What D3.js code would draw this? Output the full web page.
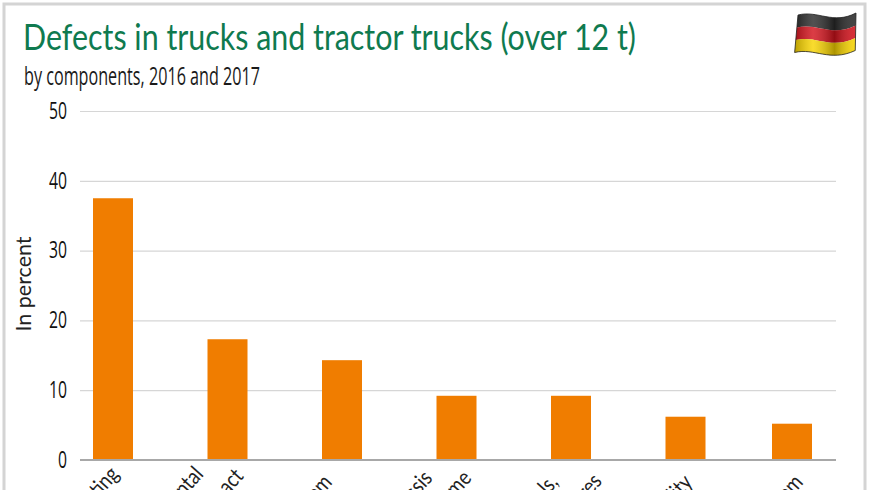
<!DOCTYPE html>
<html>
<head>
<meta charset="utf-8">
<script src="https://cdn.jsdelivr.net/npm/d3@7"></script>
<style>
  html, body { margin: 0; padding: 0; background: #fff; overflow: hidden; }
  text { font-family: "Lato", "Open Sans", sans-serif; }
</style>
</head>
<body>
<div id="content"></div>
<script>
var categories = ['Lighting', 'Environmental\nimpact', 'Brake system', 'Chassis\nand frame', 'Axles, wheels,\ntires', 'Visibility', 'Electrical system'];
var values = [37.5, 17.3, 14.3, 9.2, 9.2, 6.2, 5.2];
var yTicks = [0, 10, 20, 30, 40, 50];

var title = 'Defects in trucks and tractor trucks (over 12 t)';
var subtitle = 'by components, 2016 and 2017';
var yLabel = 'In percent';

var width = 870;
var height = 490;
var svg = d3.select('#content').append('svg').attr('width', width).attr('height', height).style('display', 'block');

// outer frame
svg.append('rect')
  .attr('x', 4).attr('y', 4).attr('width', 861).attr('height', 500)
  .style('fill', 'none').style('stroke', '#d4d4d4').style('stroke-width', 3);

svg.append('text').attr('x', 23).attr('y', 50)
  .attr('textLength', 613).attr('lengthAdjust', 'spacingAndGlyphs')
  .style('font-size', '36px').style('fill', '#0f7a4f').text(title);

svg.append('text').attr('x', 24).attr('y', 85)
  .attr('textLength', 236).attr('lengthAdjust', 'spacingAndGlyphs')
  .style('font-family', '"Open Sans", sans-serif').style('font-size', '25px').style('fill', '#1a1a1a').text(subtitle);

var y = d3.scaleLinear().domain([0, 50]).range([460, 111]);
// the picture's bars sit on an even step, apart from the last which is pulled in
var x = d3.scalePoint().domain(categories).range([113, 800]);
function barX(d, i) { return x(d) - (i === categories.length - 1 ? 8 : 0); }

var axisY = svg.append('g').attr('transform', 'translate(80,0)')
  .call(d3.axisLeft(y).tickValues(yTicks).tickSize(-756).tickPadding(13));
axisY.select('.domain').remove();
axisY.selectAll('.tick line').style('stroke', '#d6d6d6').style('stroke-width', 1.2);
axisY.selectAll('.tick text')
  .attr('textLength', function(d) { return String(d).length * 9; })
  .attr('lengthAdjust', 'spacingAndGlyphs')
  .style('font-family', '"Open Sans", sans-serif').style('font-size', '23px').style('fill', '#111');

svg.append('text')
  .attr('transform', 'translate(31,284) rotate(-90)')
  .attr('textLength', 95).attr('lengthAdjust', 'spacingAndGlyphs')
  .style('text-anchor', 'middle').style('font-size', '21px').style('fill', '#222')
  .text(yLabel);

svg.selectAll('.bar').data(values).enter().append('rect')
  .attr('class', 'bar')
  .attr('x', function(d, i) { return barX(categories[i], i) - 20; })
  .attr('y', function(d) { return y(d); })
  .attr('width', 40)
  .attr('height', function(d) { return y(0) - y(d); })
  .style('fill', '#f07d00');

// baseline on top of the bars
svg.append('line')
  .attr('x1', 80).attr('x2', 836).attr('y1', y(0)).attr('y2', y(0))
  .style('stroke', '#a8a8a8').style('stroke-width', 2.2);

// where each label line ends, relative to its bar (dx) and the baseline (dy)
var lineShift = [
  [[7, 15]],
  [[-23, 15], [17, 17]],
  [[-9, 23]],
  [[-23, 19], [16, 19]],
  [[-12, 23], [32, 22]],
  [[8, 23]],
  [[12, 23]]
];

categories.forEach(function(d, i) {
  d.split('\n').forEach(function(line, k) {
    var label = svg.append('text')
      .attr('class', 'cat')
      .attr('transform', 'translate(' + (barX(d, i) + lineShift[i][k][0]) + ',' + (y(0) + lineShift[i][k][1]) + ') rotate(-48)')
      .style('text-anchor', 'end').style('font-size', '22px').style('fill', '#222')
      .text(line);
    // the reference lettering is condensed
    label.attr('textLength', label.node().getComputedTextLength() * 0.85)
      .attr('lengthAdjust', 'spacingAndGlyphs');
  });
});

// flag, small wavy black-red-gold
var defs = svg.append('defs');
var shine = defs.append('linearGradient').attr('id', 'shine');
shine.append('stop').attr('offset', '0').attr('stop-color', '#000').attr('stop-opacity', 0.25);
shine.append('stop').attr('offset', '0.3').attr('stop-color', '#fff').attr('stop-opacity', 0.18);
shine.append('stop').attr('offset', '0.65').attr('stop-color', '#000').attr('stop-opacity', 0.3);
shine.append('stop').attr('offset', '1').attr('stop-color', '#fff').attr('stop-opacity', 0.12);

var flagBands = ['#2b2b2b', '#d3121c', '#f8d400'];
var bandH = 12.5;
function edge(offset) {
  var x0 = 798 - offset * 0.09, x1 = 856 - offset * 0.02, y0 = 15 + offset, y1 = 15 + offset - 2;
  return { x0: x0, x1: x1, y0: y0, y1: y1 };
}
function wave(e) {
  return 'M' + e.x0 + ',' + e.y0 + ' C' + (e.x0 + 20) + ',' + (e.y0 - 5) + ' ' + (e.x0 + 35) + ',' + (e.y0 + 10) + ' ' + e.x1 + ',' + e.y1;
}
function waveBack(e) {
  return ' L' + e.x1 + ',' + e.y1 + ' C' + (e.x0 + 35) + ',' + (e.y0 + 10) + ' ' + (e.x0 + 20) + ',' + (e.y0 - 5) + ' ' + e.x0 + ',' + e.y0 + ' Z';
}
flagBands.forEach(function(c, i) {
  svg.append('path')
    .attr('d', wave(edge(i * bandH)) + waveBack(edge((i + 1) * bandH)))
    .style('fill', c);
});
svg.append('path')
  .attr('d', wave(edge(0)) + waveBack(edge(3 * bandH)))
  .style('fill', 'url(#shine)').style('stroke', '#222').style('stroke-width', 0.8);
</script>
</body>
</html>
